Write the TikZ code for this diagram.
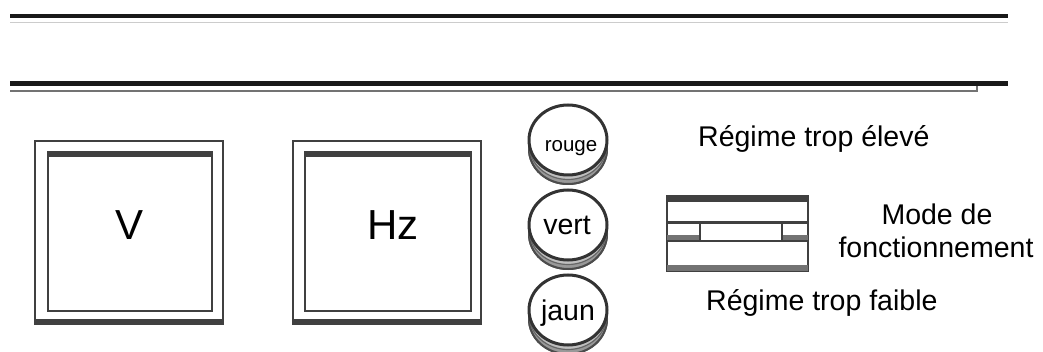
\documentclass[tikz,border=0pt]{standalone}
\usepackage{fontspec}
\setmainfont{Liberation Sans}
\usetikzlibrary{shapes.geometric}

\tikzset{
  rail/.style={line width=4.5pt, black!90},
  railshadow/.style={line width=2pt, black!55},
  frame/.style={draw=black!75, line width=2pt},
  band/.style={fill=black!75, draw=none},
  lightband/.style={fill=black!55, draw=none},
  lampface/.style={ellipse, draw=black!80, line width=3pt, fill=white,
                   minimum width=78pt, minimum height=70pt, inner sep=0pt},
  lamprim/.style={draw=black!70, line width=2pt, fill=black!40},
  lamprim2/.style={draw=black!60, line width=1.2pt, fill=black!25},
  label/.style={inner sep=0pt, anchor=base, font=\fontsize{28.5}{33}\selectfont},
  meter/.style={inner sep=0pt, anchor=base, font=\fontsize{42}{48}\selectfont},
}

% one indicator lamp: name, centre x, centre y
\newcommand\lampe[3]{%
  \fill[lamprim] (#2,#3+9) ellipse [x radius=39pt, y radius=35pt];
  \fill[lamprim2] (#2,#3+4.5) ellipse [x radius=39pt, y radius=35pt];
  \draw[lamprim] (#2,#3+9) ellipse [x radius=39pt, y radius=35pt];
  \draw[lamprim2] (#2,#3+4.5) ellipse [x radius=39pt, y radius=35pt];
  \node[lampface] (#1) at (#2,#3) {};
}

\begin{document}
\begin{tikzpicture}[x=1pt, y=-1pt]
  \useasboundingbox (0,0) rectangle (1043,352);

  % rails of the panel
  \coordinate (r1a) at (10,16);   \coordinate (r1b) at (1008,16);
  \coordinate (r1c) at (10,22);   \coordinate (r1d) at (1008,22);
  \coordinate (r2a) at (10,84);   \coordinate (r2b) at (1008,84);
  \coordinate (r2c) at (10,91);   \coordinate (r2d) at (977,91);
  \coordinate (r2e) at (977,86);
  \draw[rail] (r1a) -- (r1b);
  \draw[line width=0.8pt, black!20] (r1c) -- (r1d);
  \draw[rail, line width=5pt] (r2a) -- (r2b);
  \draw[railshadow] (r2c) -- (r2d) -- (r2e);

  % voltmeter
  \draw[frame] (35,141) rectangle (223,324);
  \fill[band] (35,319) rectangle (223,325);
  \draw[frame] (48,152) rectangle (212,311);
  \fill[band] (48,152) rectangle (212,157.5);
  \node[meter] (volt) at (130,240) {V};

  % frequency meter
  \draw[frame] (293,141) rectangle (481,324);
  \fill[band] (293,319) rectangle (481,325);
  \draw[frame] (305,152) rectangle (471,311);
  \fill[band] (305,152) rectangle (471,157.5);
  \node[meter] (freq) at (393,240) {Hz};

  % indicator lamps
  \lampe{rouge}{568}{140}
  \lampe{vert}{568}{225}
  \lampe{jaune}{568}{310}
  \node[inner sep=0pt, anchor=base, font=\fontsize{20.5}{24}\selectfont] (trouge) at (571,152) {rouge};
  \node[label] (tvert) at (567,235) {vert};
  \node[label] (tjaune) at (568,320) {jaun};

  % mode selector switch
  \draw[frame] (667,196) rectangle (808,271);
  \fill[band] (667,196) rectangle (808,202);
  \draw[frame, line width=3pt] (667,223) -- (808,223);
  \fill[lightband] (667,235) rectangle (700,241);
  \fill[lightband] (782,235) rectangle (808,241);
  \draw[frame] (700,223) rectangle (782,241);
  \draw[frame] (667,241) -- (700,241);
  \draw[frame] (782,241) -- (808,241);
  \fill[lightband] (667,265) rectangle (808,271);

  % captions
  \node[label, anchor=base west] (haut) at (698,147) {Régime trop élevé};
  \node[label, anchor=base west] (bas) at (706,310) {Régime trop faible};
  \node[label] (mode1) at (937,225) {Mode de};
  \node[label] (mode2) at (936,258) {fonctionnement};
\end{tikzpicture}
\end{document}
